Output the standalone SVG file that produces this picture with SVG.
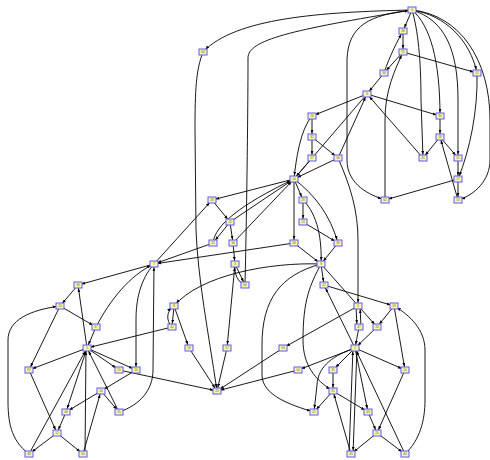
<svg xmlns="http://www.w3.org/2000/svg" width="490" height="460" viewBox="0 0 490 460">
<style>
.node rect{fill:#fbf7a6;stroke:#5a5aff;stroke-width:1}
.node text{font-family:'Liberation Sans',sans-serif;font-size:3px;fill:#555;text-anchor:middle}
#edges path{fill:none;stroke:#000;stroke-width:0.9;marker-end:url(#a)}
</style>
<defs>
<marker id="a" markerWidth="4" markerHeight="3" refX="7.4" refY="1.5" orient="auto" markerUnits="userSpaceOnUse"><path d="M0,0 L4,1.5 L0,3z" fill="#000"/></marker>
</defs>
<rect width="490" height="460" fill="#fff"/>
<g id="edges">
<path d="M412,10 L403,31"/>
<path d="M403,31 L403,52"/>
<path d="M403,52 L384,73"/>
<path d="M403,52 L477,73"/>
<path d="M384,73 L367,94"/>
<path d="M384,73 C390,55 398,40 403,31"/>
<path d="M338,158 L367,94"/>
<path d="M423,158 L367,94"/>
<path d="M385,200 L385,120 C385,90 395,70 403,52"/>
<path d="M412,10 C445,15 470,40 477,73"/>
<path d="M412,10 C430,25 440,60 440,116"/>
<path d="M367,94 L440,116"/>
<path d="M367,94 L312,116"/>
<path d="M412,10 C320,12 235,18 203,52"/>
<path d="M245,285 C247,200 248,100 248,58 C248,40 290,30 412,10"/>
<path d="M412,10 C418,30 421,60 421,100 L423,158"/>
<path d="M412,10 C445,20 458,50 458,100 L458,158"/>
<path d="M412,10 C460,15 490,60 490,120 L490,160 C490,180 475,195 458,200"/>
<path d="M412,10 C370,15 348,25 347,60 L347,160 C347,185 370,195 385,200"/>
<path d="M477,73 C478,110 470,150 458,179"/>
<path d="M440,116 L440,137"/>
<path d="M440,137 L423,158"/>
<path d="M440,137 L458,158"/>
<path d="M458,158 L458,179"/>
<path d="M458,179 L458,200"/>
<path d="M458,179 L385,200"/>
<path d="M458,200 L440,137"/>
<path d="M367,94 L294,179"/>
<path d="M312,116 L312,137"/>
<path d="M312,137 L312,158"/>
<path d="M312,137 L338,158"/>
<path d="M312,158 L294,179"/>
<path d="M338,158 L294,179"/>
<path d="M312,116 C300,130 296,160 294,179"/>
<path d="M203,52 C196,70 195,90 195,130 L196,230 C198,280 208,330 217,391"/>
<path d="M294,179 L212,200"/>
<path d="M294,179 L303,200"/>
<path d="M294,179 L294,243"/>
<path d="M294,179 C315,195 330,215 338,243"/>
<path d="M303,200 L303,222"/>
<path d="M303,222 L338,243"/>
<path d="M303,200 C318,215 322,240 321,264"/>
<path d="M212,200 L230,222"/>
<path d="M230,222 L294,179"/>
<path d="M230,222 L213,243"/>
<path d="M230,222 L233,243"/>
<path d="M213,243 C215,225 240,205 294,179"/>
<path d="M233,243 L294,179"/>
<path d="M154,264 L212,200"/>
<path d="M213,243 L154,264"/>
<path d="M294,243 L154,264"/>
<path d="M233,243 L235,264"/>
<path d="M235,264 L245,285"/>
<path d="M245,285 C238,282 234,275 235,264"/>
<path d="M235,264 L227,348"/>
<path d="M294,243 L321,264"/>
<path d="M338,243 L321,264"/>
<path d="M321,264 L324,285"/>
<path d="M321,264 C270,262 200,275 174,306"/>
<path d="M321,264 L377,327"/>
<path d="M321,264 C280,275 262,300 262,345 L262,375 C262,395 290,405 314,412"/>
<path d="M321,264 C310,285 303,300 303,340 C303,365 315,380 333,391"/>
<path d="M338,158 C350,185 358,210 358,240 L358,306"/>
<path d="M324,285 L394,306"/>
<path d="M355,348 L324,285"/>
<path d="M356,306 L357,327"/>
<path d="M361,327 L360,306"/>
<path d="M358,306 L283,348"/>
<path d="M394,306 L377,327"/>
<path d="M394,306 L405,370"/>
<path d="M377,327 L355,348"/>
<path d="M359,327 L355,348"/>
<path d="M405,454 C420,440 425,420 425,400 L425,350 C425,330 410,315 394,306"/>
<path d="M355,348 L298,370"/>
<path d="M355,348 L333,370"/>
<path d="M355,348 L405,370"/>
<path d="M355,348 L368,412"/>
<path d="M355,348 C335,355 318,365 317,385 L314,412"/>
<path d="M333,391 L314,412"/>
<path d="M333,370 L333,391"/>
<path d="M333,391 L368,412"/>
<path d="M368,412 L377,433"/>
<path d="M405,370 L377,433"/>
<path d="M377,433 L351,454"/>
<path d="M377,433 L405,454"/>
<path d="M351,454 L333,391"/>
<path d="M349,454 L353,348"/>
<path d="M357,348 L353,454"/>
<path d="M405,454 L355,348"/>
<path d="M174,306 L172,327"/>
<path d="M172,327 C166,320 166,312 174,306"/>
<path d="M174,306 L189,348"/>
<path d="M172,327 L87,348"/>
<path d="M189,348 L217,391"/>
<path d="M227,348 L217,391"/>
<path d="M283,348 L217,391"/>
<path d="M298,370 L217,391"/>
<path d="M119,370 L217,391"/>
<path d="M154,264 L78,285"/>
<path d="M78,285 L60,306"/>
<path d="M60,306 L96,327"/>
<path d="M96,327 C110,300 130,275 154,264"/>
<path d="M96,327 L87,348"/>
<path d="M87,348 L78,285"/>
<path d="M60,306 L29,370"/>
<path d="M29,454 C10,440 8,420 8,400 L8,340 C8,320 30,310 60,306"/>
<path d="M154,264 C140,280 136,300 136,320 L136,370"/>
<path d="M119,412 C140,405 153,390 153,370 L154,264"/>
<path d="M87,348 L29,370"/>
<path d="M87,348 L119,370"/>
<path d="M87,348 L136,370"/>
<path d="M136,370 L101,391"/>
<path d="M101,391 L66,412"/>
<path d="M101,391 L119,412"/>
<path d="M87,348 L66,412"/>
<path d="M83,454 L101,391"/>
<path d="M29,370 L57,433"/>
<path d="M66,412 L57,433"/>
<path d="M57,433 L29,454"/>
<path d="M57,433 L83,454"/>
<path d="M29,454 L87,348"/>
<path d="M85,454 L86,348"/>
<path d="M119,412 L87,348"/>
</g>
<g id="n1" class="node"><rect x="408" y="7" width="8" height="6"/><text x="412" y="11">0</text></g>
<g id="n2" class="node"><rect x="399" y="28" width="8" height="6"/><text x="403" y="32">38</text></g>
<g id="n3" class="node"><rect x="399" y="49" width="8" height="6"/><text x="403" y="53">15</text></g>
<g id="n4" class="node"><rect x="380" y="70" width="8" height="6"/><text x="384" y="74">36</text></g>
<g id="n5" class="node"><rect x="473" y="70" width="8" height="6"/><text x="477" y="74">52</text></g>
<g id="n6" class="node"><rect x="363" y="91" width="8" height="6"/><text x="367" y="95">6</text></g>
<g id="n7" class="node"><rect x="436" y="113" width="8" height="6"/><text x="440" y="117">30</text></g>
<g id="n8" class="node"><rect x="308" y="113" width="8" height="6"/><text x="312" y="117">26</text></g>
<g id="n9" class="node"><rect x="436" y="134" width="8" height="6"/><text x="440" y="138">18</text></g>
<g id="n10" class="node"><rect x="308" y="134" width="8" height="6"/><text x="312" y="138">32</text></g>
<g id="n11" class="node"><rect x="308" y="155" width="8" height="6"/><text x="312" y="159">27</text></g>
<g id="n12" class="node"><rect x="334" y="155" width="8" height="6"/><text x="338" y="159">56</text></g>
<g id="n13" class="node"><rect x="419" y="155" width="8" height="6"/><text x="423" y="159">41</text></g>
<g id="n14" class="node"><rect x="454" y="155" width="8" height="6"/><text x="458" y="159">51</text></g>
<g id="n15" class="node"><rect x="454" y="176" width="8" height="6"/><text x="458" y="180">17</text></g>
<g id="n16" class="node"><rect x="454" y="197" width="8" height="6"/><text x="458" y="201">53</text></g>
<g id="n17" class="node"><rect x="381" y="197" width="8" height="6"/><text x="385" y="201">62</text></g>
<g id="n18" class="node"><rect x="290" y="176" width="8" height="6"/><text x="294" y="180">10</text></g>
<g id="n19" class="node"><rect x="208" y="197" width="8" height="6"/><text x="212" y="201">28</text></g>
<g id="n20" class="node"><rect x="299" y="197" width="8" height="6"/><text x="303" y="201">29</text></g>
<g id="n21" class="node"><rect x="226" y="219" width="8" height="6"/><text x="230" y="223">11</text></g>
<g id="n22" class="node"><rect x="299" y="219" width="8" height="6"/><text x="303" y="223">13</text></g>
<g id="n23" class="node"><rect x="209" y="240" width="8" height="6"/><text x="213" y="244">25</text></g>
<g id="n24" class="node"><rect x="229" y="240" width="8" height="6"/><text x="233" y="244">34</text></g>
<g id="n25" class="node"><rect x="290" y="240" width="8" height="6"/><text x="294" y="244">58</text></g>
<g id="n26" class="node"><rect x="334" y="240" width="8" height="6"/><text x="338" y="244">39</text></g>
<g id="n27" class="node"><rect x="150" y="261" width="8" height="6"/><text x="154" y="265">7</text></g>
<g id="n28" class="node"><rect x="231" y="261" width="8" height="6"/><text x="235" y="265">4</text></g>
<g id="n29" class="node"><rect x="317" y="261" width="8" height="6"/><text x="321" y="265">9</text></g>
<g id="n30" class="node"><rect x="241" y="282" width="8" height="6"/><text x="245" y="286">60</text></g>
<g id="n31" class="node"><rect x="320" y="282" width="8" height="6"/><text x="324" y="286">22</text></g>
<g id="n32" class="node"><rect x="74" y="282" width="8" height="6"/><text x="78" y="286">36</text></g>
<g id="n33" class="node"><rect x="56" y="303" width="8" height="6"/><text x="60" y="307">20</text></g>
<g id="n34" class="node"><rect x="92" y="324" width="8" height="6"/><text x="96" y="328">37</text></g>
<g id="n35" class="node"><rect x="170" y="303" width="8" height="6"/><text x="174" y="307">8</text></g>
<g id="n36" class="node"><rect x="168" y="324" width="8" height="6"/><text x="172" y="328">42</text></g>
<g id="n37" class="node"><rect x="354" y="303" width="8" height="6"/><text x="358" y="307">5</text></g>
<g id="n38" class="node"><rect x="390" y="303" width="8" height="6"/><text x="394" y="307">19</text></g>
<g id="n39" class="node"><rect x="355" y="324" width="8" height="6"/><text x="359" y="328">47</text></g>
<g id="n40" class="node"><rect x="373" y="324" width="8" height="6"/><text x="377" y="328">33</text></g>
<g id="n41" class="node"><rect x="83" y="345" width="8" height="6"/><text x="87" y="349">1</text></g>
<g id="n42" class="node"><rect x="351" y="345" width="8" height="6"/><text x="355" y="349">2</text></g>
<g id="n43" class="node"><rect x="185" y="345" width="8" height="6"/><text x="189" y="349">59</text></g>
<g id="n44" class="node"><rect x="223" y="345" width="8" height="6"/><text x="227" y="349">57</text></g>
<g id="n45" class="node"><rect x="279" y="345" width="8" height="6"/><text x="283" y="349">58</text></g>
<g id="n46" class="node"><rect x="25" y="367" width="8" height="6"/><text x="29" y="371">67</text></g>
<g id="n47" class="node"><rect x="115" y="367" width="8" height="6"/><text x="119" y="371">55</text></g>
<g id="n48" class="node"><rect x="132" y="367" width="8" height="6"/><text x="136" y="371">24</text></g>
<g id="n49" class="node"><rect x="294" y="367" width="8" height="6"/><text x="298" y="371">54</text></g>
<g id="n50" class="node"><rect x="329" y="367" width="8" height="6"/><text x="333" y="371">35</text></g>
<g id="n51" class="node"><rect x="401" y="367" width="8" height="6"/><text x="405" y="371">14</text></g>
<g id="n52" class="node"><rect x="97" y="388" width="8" height="6"/><text x="101" y="392">16</text></g>
<g id="n53" class="node"><rect x="213" y="388" width="8" height="6"/><text x="217" y="392">23</text></g>
<g id="n54" class="node"><rect x="329" y="388" width="8" height="6"/><text x="333" y="392">31</text></g>
<g id="n55" class="node"><rect x="62" y="409" width="8" height="6"/><text x="66" y="413">46</text></g>
<g id="n56" class="node"><rect x="115" y="409" width="8" height="6"/><text x="119" y="413">35</text></g>
<g id="n57" class="node"><rect x="310" y="409" width="8" height="6"/><text x="314" y="413">21</text></g>
<g id="n58" class="node"><rect x="364" y="409" width="8" height="6"/><text x="368" y="413">43</text></g>
<g id="n59" class="node"><rect x="53" y="430" width="8" height="6"/><text x="57" y="434">12</text></g>
<g id="n60" class="node"><rect x="373" y="430" width="8" height="6"/><text x="377" y="434">20</text></g>
<g id="n61" class="node"><rect x="25" y="451" width="8" height="6"/><text x="29" y="455">48</text></g>
<g id="n62" class="node"><rect x="79" y="451" width="8" height="6"/><text x="83" y="455">50</text></g>
<g id="n63" class="node"><rect x="347" y="451" width="8" height="6"/><text x="351" y="455">45</text></g>
<g id="n64" class="node"><rect x="401" y="451" width="8" height="6"/><text x="405" y="455">40</text></g>
<g id="n65" class="node"><rect x="199" y="49" width="8" height="6"/><text x="203" y="53">64</text></g>
</svg>
